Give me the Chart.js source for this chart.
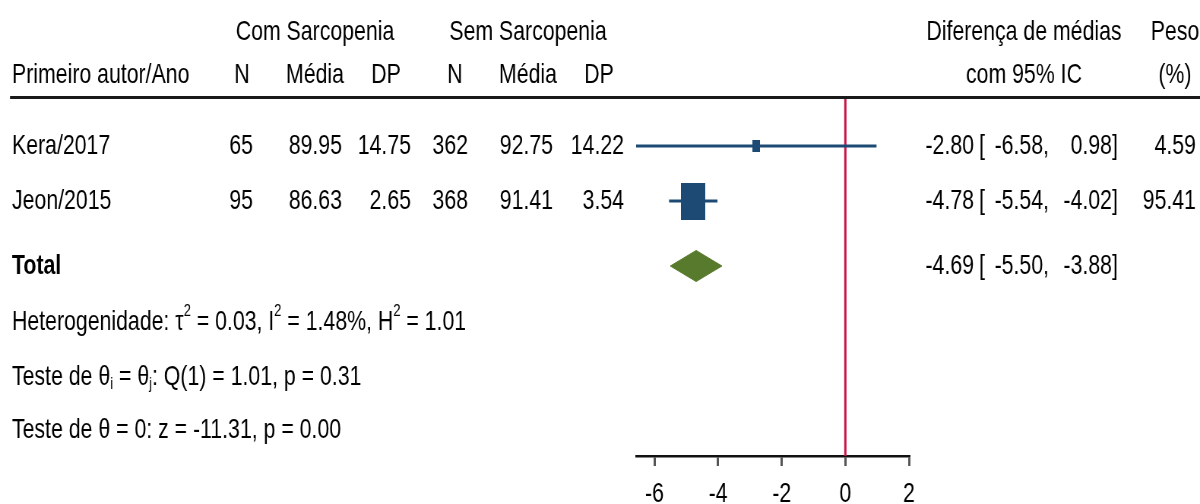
<!DOCTYPE html>
<html>
<head>
<meta charset="utf-8">
<script src="https://cdn.jsdelivr.net/npm/chart.js@4.4.1/dist/chart.umd.min.js"></script>
<style>
  html, body { margin: 0; padding: 0; width: 1200px; height: 504px; overflow: hidden; background: #fff; }
  #wrap { transform-origin: 0 0; }
  canvas { display: block; }
</style>
</head>
<body>
<div id="wrap"><canvas id="forest"></canvas></div>
<script>
// ---- study data ----
const studies  = ['Kera/2017', 'Jeon/2015'];
const nCom     = [65, 95];
const meanCom  = [89.95, 86.63];
const sdCom    = [14.75, 2.65];
const nSem     = [362, 368];
const meanSem  = [92.75, 91.41];
const sdSem    = [14.22, 3.54];
const diff     = [-2.80, -4.78];
const ciLow    = [-6.58, -5.54];
const ciHigh   = [0.98, -4.02];
const weight   = [4.59, 95.41];

// ---- pooled estimate ----
const totalDiff = -4.69;
const totalLow  = -5.50;
const totalHigh = -3.88;

// ---- heterogeneity and tests ----
const tau2 = 0.03, iSq = 1.48, hSq = 1.01;
const qStat = 1.01, qDf = 1, qP = 0.31;
const zStat = -11.31, zP = 0.00;

// ---- axis ticks ----
const xTicks = [-6, -4, -2, 0, 2];

// ---- layout (page is rendered horizontally condensed) ----
const SX = 0.76;                       // horizontal condense factor
const W = Math.round(1200 / SX);
const H = 520;
const cx = x => x / SX;                // page x -> canvas x
const PANEL_L = 636, PANEL_R = 909;    // plot panel on the page
const AXIS_Y = 456;
const ROW0 = 146, ROW_H = 55;          // first study row and row pitch (px)
const yMin = -ROW0 / ROW_H;
const yMax = (AXIS_Y - ROW0) / ROW_H;
const rowAt = px => (px - ROW0) / ROW_H;
const R = {
  head1: rowAt(32), head2: rowAt(75), rule: rowAt(97.5),
  total: rowAt(266), het: rowAt(322), q: rowAt(377), z: rowAt(430)
};

const NAVY = '#1d4a74', GREEN = '#587a2c', RED = '#c8174a';
const FAMILY = '"Liberation Sans", Arial, sans-serif';
const fnt = (size, bold) => (bold ? 'bold ' : '') + size + 'px ' + FAMILY;
const f2 = v => v.toFixed(2);

const canvas = document.getElementById('forest');
canvas.width = W; canvas.height = H;
const wrap = document.getElementById('wrap');
wrap.style.transform = 'scaleX(' + (1200 / W) + ')';
wrap.style.width = W + 'px';

// Weighted study boxes: page height in px, width follows the condensed aspect
const boxHeight = weight.map(w => Math.max(11.5, 3.8 * Math.sqrt(w)));
const boxAspect = 0.65;
const boxImages = boxHeight.map(h => {
  const c = document.createElement('canvas');
  c.height = Math.round(h);
  c.width = Math.round(h * boxAspect / SX);
  const g = c.getContext('2d');
  g.fillStyle = NAVY;
  g.fillRect(0, 0, c.width, c.height);
  return c;
});
const diamondHalf = 15.5 / ROW_H;

function richText(ctx, parts, x, y) {
  let px = x;
  ctx.textAlign = 'left';
  for (const p of parts) {
    const small = p.sup || p.sub;
    ctx.font = fnt(small ? 17 : 28);
    const dy = p.sup ? -11 : (p.sub ? 7 : 0);
    ctx.fillText(p.t, px, y + dy);
    px += ctx.measureText(p.t).width;
  }
}

const tablePlugin = {
  id: 'forestTable',
  afterDraw(chart) {
    const ctx = chart.ctx;
    const y = chart.scales.y;
    const py = r => y.getPixelForValue(r);
    const put = (s, x, row, align, bold) => {
      ctx.font = fnt(28, bold);
      ctx.textAlign = align;
      ctx.fillText(s, cx(x), py(row));
    };
    ctx.save();
    ctx.fillStyle = '#000';
    ctx.textBaseline = 'middle';

    // column headers
    put('Com Sarcopenia', 315, R.head1, 'center');
    put('Sem Sarcopenia', 528, R.head1, 'center');
    put('Diferença de médias', 1024, R.head1, 'center');
    put('Peso', 1175, R.head1, 'center');
    put('Primeiro autor/Ano', 12, R.head2, 'left');
    put('N', 242, R.head2, 'center');
    put('Média', 315, R.head2, 'center');
    put('DP', 386, R.head2, 'center');
    put('N', 455, R.head2, 'center');
    put('Média', 528, R.head2, 'center');
    put('DP', 599, R.head2, 'center');
    put('com 95% IC', 1024, R.head2, 'center');
    put('(%)', 1175, R.head2, 'center');

    // header rule
    ctx.strokeStyle = '#1a1a1a';
    ctx.lineWidth = 3;
    ctx.beginPath();
    ctx.moveTo(cx(10), py(R.rule));
    ctx.lineTo(W, py(R.rule));
    ctx.stroke();

    // study rows
    studies.forEach((name, i) => {
      put(name, 12, i, 'left');
      put(String(nCom[i]), 253, i, 'right');
      put(f2(meanCom[i]), 342, i, 'right');
      put(f2(sdCom[i]), 411, i, 'right');
      put(String(nSem[i]), 468, i, 'right');
      put(f2(meanSem[i]), 553, i, 'right');
      put(f2(sdSem[i]), 624, i, 'right');
      put(f2(diff[i]), 974, i, 'right');
      put('[', 979, i, 'left');
      put(f2(ciLow[i]) + ',', 1049, i, 'right');
      put(f2(ciHigh[i]), 1112, i, 'right');
      put(']', 1112, i, 'left');
      put(f2(weight[i]), 1196, i, 'right');
    });

    // pooled row
    put('Total', 12, R.total, 'left', true);
    put(f2(totalDiff), 974, R.total, 'right');
    put('[', 979, R.total, 'left');
    put(f2(totalLow) + ',', 1049, R.total, 'right');
    put(f2(totalHigh), 1112, R.total, 'right');
    put(']', 1112, R.total, 'left');

    // heterogeneity and tests
    richText(ctx, [
      { t: 'Heterogenidade: τ' }, { t: '2', sup: true },
      { t: ' = ' + f2(tau2) + ', I' }, { t: '2', sup: true },
      { t: ' = ' + f2(iSq) + '%, H' }, { t: '2', sup: true },
      { t: ' = ' + f2(hSq) }
    ], cx(12), py(R.het));
    richText(ctx, [
      { t: 'Teste de θ' }, { t: 'i', sub: true },
      { t: ' = θ' }, { t: 'j', sub: true },
      { t: ': Q(' + qDf + ') = ' + f2(qStat) + ', p = ' + f2(qP) }
    ], cx(12), py(R.q));
    richText(ctx, [
      { t: 'Teste de θ = 0: z = ' + f2(zStat) + ', p = ' + f2(zP) }
    ], cx(12), py(R.z));

    ctx.restore();
  }
};

const xMin = Math.min(...ciLow);
const xMax = xTicks[xTicks.length - 1];

new Chart(canvas, {
  type: 'scatter',
  data: {
    datasets: [
      {
        // weighted study boxes
        data: diff.map((v, i) => ({ x: v, y: i })),
        pointStyle: boxImages,
        pointRadius: 10
      },
      ...studies.map((s, i) => ({
        // confidence interval of each study
        data: [{ x: ciLow[i], y: i }, { x: ciHigh[i], y: i }],
        showLine: true,
        borderColor: NAVY,
        borderWidth: 3,
        pointRadius: 0
      })),
      {
        // pooled estimate diamond
        data: [
          { x: totalLow, y: R.total },
          { x: totalDiff, y: R.total - diamondHalf },
          { x: totalHigh, y: R.total },
          { x: totalDiff, y: R.total + diamondHalf },
          { x: totalLow, y: R.total }
        ],
        showLine: true,
        fill: 'shape',
        backgroundColor: GREEN,
        borderColor: GREEN,
        borderWidth: 1,
        pointRadius: 0,
        tension: 0
      },
      {
        // line of no effect
        data: [{ x: 0, y: R.rule }, { x: 0, y: yMax }],
        showLine: true,
        borderColor: RED,
        borderWidth: 3,
        pointRadius: 0
      }
    ]
  },
  options: {
    responsive: false,
    animation: false,
    devicePixelRatio: 1,
    events: [],
    layout: { autoPadding: false, padding: { left: cx(PANEL_L), right: W - cx(PANEL_R), top: 0, bottom: 0 } },
    plugins: { legend: { display: false }, tooltip: { enabled: false } },
    scales: {
      x: {
        type: 'linear',
        min: xMin,
        max: xMax,
        afterBuildTicks: s => { s.ticks = xTicks.map(v => ({ value: v })); },
        afterFit: s => { s.height = H - AXIS_Y; },
        grid: { drawOnChartArea: false, drawTicks: true, tickLength: 10, color: '#555', lineWidth: 3 },
        border: { display: true, color: '#111', width: 2.5 },
        ticks: {
          padding: 11,
          color: '#000',
          autoSkip: false,
          maxRotation: 0,
          font: { family: FAMILY, size: 28 },
          callback: v => String(v)
        }
      },
      y: {
        type: 'linear',
        display: false,
        reverse: true,
        min: yMin,
        max: yMax
      }
    }
  },
  plugins: [tablePlugin]
});
</script>
</body>
</html>
